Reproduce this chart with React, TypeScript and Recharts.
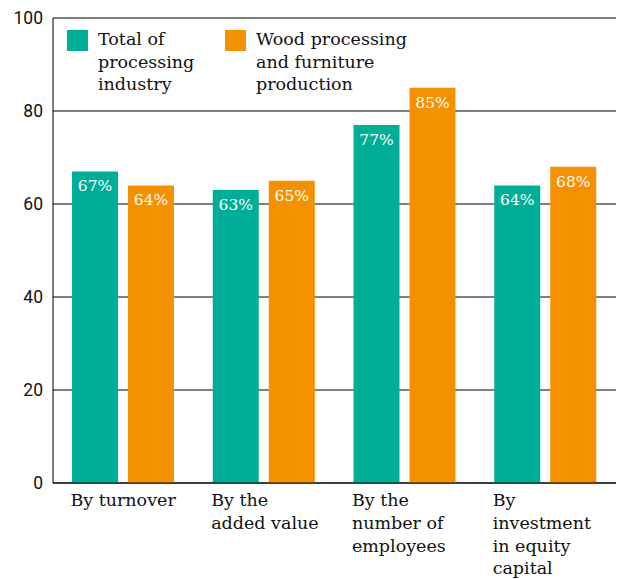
import React from 'react';
import { BarChart, Bar, XAxis, YAxis, CartesianGrid, LabelList } from 'recharts';

const categories = ['By turnover', 'By the|added value', 'By the|number of|employees', 'By|investment|in equity|capital'];
const totalValues = [67, 63, 77, 64];
const woodValues = [64, 65, 85, 68];
const yTicks = [0, 20, 40, 60, 80, 100];
const seriesNames = ['Total of|processing|industry', 'Wood processing|and furniture|production'];

const TEAL = '#00ae97';
const ORANGE = '#f39100';
const SERIF = '"DejaVu Serif", serif';

const data = categories.map((c, i) => ({ name: c, total: totalValues[i], wood: woodValues[i] }));

const CategoryTick = (props: any) => {
  const { x, y, payload } = props;
  const lines = String(payload.value).split('|');
  return (
    <text x={x - 53} y={y} fill="#111" fontFamily={SERIF} fontSize={17.5} textAnchor="start">
      {lines.map((l, i) => (
        <tspan key={i} x={x - 53} dy={i === 0 ? 15 : 22.8}>{l}</tspan>
      ))}
    </text>
  );
};

const LegendBox = () => (
  <div style={{ position: 'absolute', left: 67, top: 30, display: 'flex', fontFamily: SERIF, fontSize: 17.5, color: '#111', lineHeight: '22.5px' }}>
    {seriesNames.map((s, i) => (
      <div key={i} style={{ display: 'flex', width: i === 0 ? 158 : 220 }}>
        <div style={{ width: 21, height: 21, background: i === 0 ? TEAL : ORANGE, marginRight: 10, flexShrink: 0 }} />
        <div style={{ marginTop: -2 }}>
          {s.split('|').map((l, j) => <div key={j} style={{ whiteSpace: 'nowrap' }}>{l}</div>)}
        </div>
      </div>
    ))}
  </div>
);

export default function App() {
  return (
    <div style={{ position: 'absolute', left: 0, top: 0, width: 621, height: 579, background: '#fff' }}>
      <BarChart width={621} height={579} data={data} margin={{ top: 18, right: 5, left: 0, bottom: 0 }} barGap={10} barCategoryGap={19}>
        <CartesianGrid vertical={false} stroke="#000" strokeWidth={1} />
        <XAxis dataKey="name" height={96} tick={<CategoryTick />} tickLine={false} axisLine={{ stroke: '#000' }} interval={0} />
        <YAxis domain={[0, 100]} ticks={yTicks} width={53} tickLine={false} axisLine={{ stroke: '#000' }}
          tick={{ fill: '#111', fontFamily: 'Roboto, sans-serif', fontSize: 17.5 }} tickMargin={4} interval={0} />
        <Bar dataKey="total" fill={TEAL} isAnimationActive={false}>
          <LabelList dataKey="total" position="insideTop" offset={9} formatter={(v: any) => `${v}%`}
            style={{ fill: '#fff', fontFamily: SERIF, fontSize: 15.5 }} />
        </Bar>
        <Bar dataKey="wood" fill={ORANGE} isAnimationActive={false}>
          <LabelList dataKey="wood" position="insideTop" offset={9} formatter={(v: any) => `${v}%`}
            style={{ fill: '#fff', fontFamily: SERIF, fontSize: 15.5 }} />
        </Bar>
      </BarChart>
      <LegendBox />
    </div>
  );
}
